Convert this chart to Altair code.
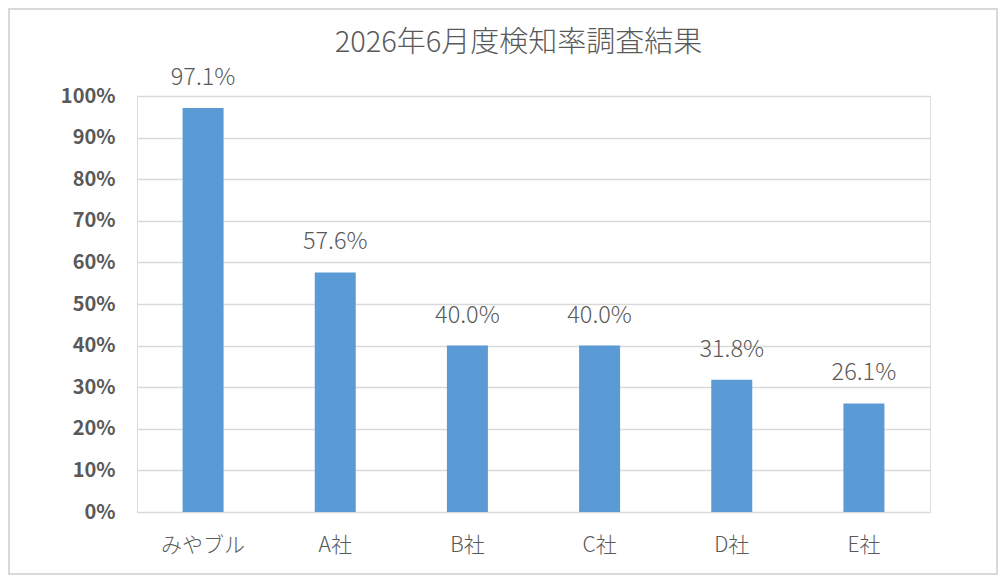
import altair as alt
import pandas as pd

companies = ["みやブル", "A社", "B社", "C社", "D社", "E社"]
rates = [0.971, 0.576, 0.400, 0.400, 0.318, 0.261]
title_text = "2026年6月度検知率調査結果"
y_ticks = [0, 0.1, 0.2, 0.3, 0.4, 0.5, 0.6, 0.7, 0.8, 0.9, 1.0]

df = pd.DataFrame({"company": companies, "rate": rates})

FONT = "Noto Sans CJK JP"
TXT = "#595959"

x = alt.X("company:N", sort=companies, title=None,
          scale=alt.Scale(paddingInner=0, paddingOuter=0),
          axis=alt.Axis(labelAngle=0, domain=False, ticks=False, labelPadding=22,
                        labelFontSize=21, labelFontWeight=300, labelColor=TXT, labelFont=FONT))
y = alt.Y("rate:Q", title=None, scale=alt.Scale(domain=[0, 1], nice=False),
          axis=alt.Axis(values=y_ticks, format=".0%", domain=False, ticks=False,
                        labelPadding=22, labelFontSize=20, labelFontWeight="bold",
                        labelColor=TXT, labelFont=FONT, gridColor="#D9D9D9", gridWidth=1.5))

base = alt.Chart(df)
bars = base.mark_bar(size=41, color="#5B9BD5").encode(x=x, y=y)
labels = base.mark_text(baseline="alphabetic", dy=-23, fontSize=23.5, fontWeight=300,
                        color=TXT, font=FONT).encode(
    x=alt.X("company:N", sort=companies), y="rate:Q", text=alt.Text("rate:Q", format=".1%"))

title = alt.Chart(pd.DataFrame({"t": [title_text]})).mark_text(
    fontSize=29, fontWeight=300, color=TXT, font=FONT, baseline="middle", align="center").encode(
    x=alt.value(381.5), y=alt.value(-53), text="t:N")

border = alt.Chart(pd.DataFrame({"a": [0]})).mark_rect(
    fill=None, stroke="#D9D9D9", strokeWidth=2, clip=False).encode(
    x=alt.value(-128), x2=alt.value(860), y=alt.value(-87), y2=alt.value(478))

chart = alt.layer(bars, labels, title, border).properties(
    width=793, height=416,
    padding={"left": 129, "top": 88, "right": 68, "bottom": 63},
    autosize=alt.AutoSizeParams(type="none"),
).configure_view(stroke=None).configure(background="white")

chart.save("out.html", embed_options={"renderer": "svg", "actions": False})
